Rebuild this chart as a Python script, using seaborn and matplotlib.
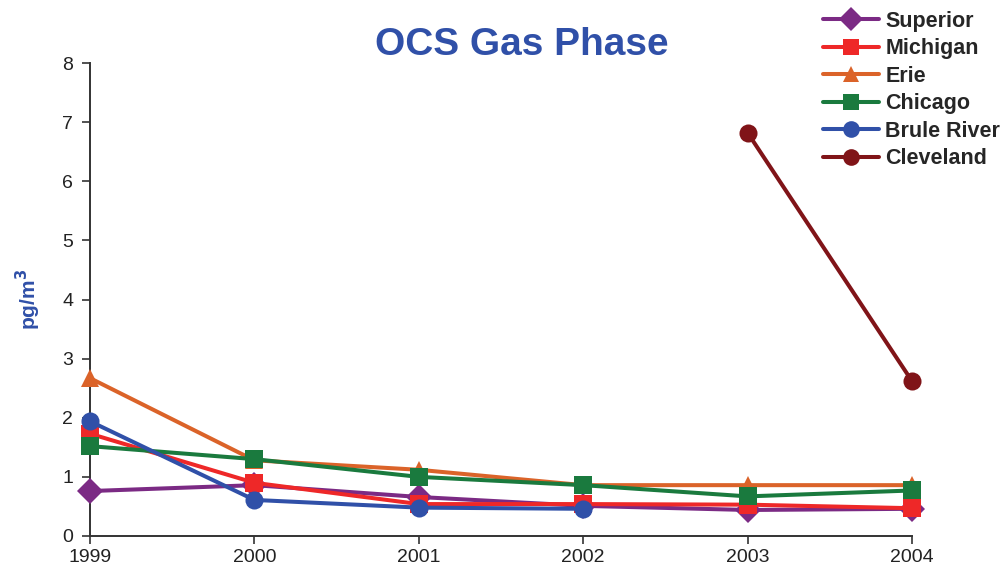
import matplotlib
matplotlib.use("Agg")
import matplotlib.pyplot as plt
import seaborn as sns
import pandas as pd
import numpy as np

years = [1999, 2000, 2001, 2002, 2003, 2004]
sites = ["Superior", "Michigan", "Erie", "Chicago", "Brule River", "Cleveland"]
superior = [0.76, 0.86, 0.66, 0.51, 0.44, 0.46]
michigan = [1.73, 0.90, 0.54, 0.54, 0.53, 0.47]
erie = [2.67, 1.28, 1.12, 0.86, 0.86, 0.86]
chicago = [1.52, 1.30, 1.00, 0.86, 0.67, 0.77]
brule_river = [1.94, 0.61, 0.48, 0.46, np.nan, np.nan]
cleveland = [np.nan, np.nan, np.nan, np.nan, 6.82, 2.62]

colors = ["#7B2A84", "#EE2828", "#DB6329", "#1A7A3E", "#3050A8", "#801418"]
marker_shapes = ["D", "s", "^", "s", "o", "o"]

series = [superior, michigan, erie, chicago, brule_river, cleveland]
rows = []
for name, vals in zip(sites, series):
    for yr, v in zip(years, vals):
        if not np.isnan(v):
            rows.append({"Year": yr, "Value": v, "Site": name})
df = pd.DataFrame(rows)

sns.set_theme(style="white")
plt.rcParams["font.family"] = ["Liberation Sans", "DejaVu Sans"]

fig = plt.figure(figsize=(10.03, 5.81), dpi=100)
ax = fig.add_axes([90 / 1003, 45 / 581, (912 - 90) / 1003, (536 - 63) / 581])

sns.lineplot(
    data=df, x="Year", y="Value", hue="Site", style="Site",
    hue_order=sites, style_order=sites,
    palette=dict(zip(sites, colors)),
    markers=dict(zip(sites, marker_shapes)),
    dashes=False, linewidth=2.9, markersize=13, markeredgewidth=0,
    ax=ax, legend=False, clip_on=False, zorder=3,
)

ax.set_xlim(1999, 2004)
ax.set_ylim(0, 8)
ax.set_xticks(years)
ax.set_xticklabels([str(y) for y in years])
ax.set_yticks(range(0, 9))
ax.tick_params(axis="both", direction="out", length=6, width=1.2, color="#333333",
               labelsize=14, labelcolor="#222222", bottom=True, left=True)
ax.tick_params(axis="x", pad=3)
ax.tick_params(axis="y", pad=6)
for s in ["top", "right"]:
    ax.spines[s].set_visible(False)
for s in ["left", "bottom"]:
    ax.spines[s].set_color("#333333")
    ax.spines[s].set_linewidth(1.4)
ax.set_xlabel("")
ax.set_ylabel("pg/m$^\\mathbf{3}$", color="#3050A8", fontsize=15, fontweight="bold", labelpad=14)

fig.text(0.52, 0.922, "OCS Gas Phase", ha="center", va="center", color="#3050A8",
         fontsize=28, fontweight="bold")

handles = [
    plt.Line2D([], [], color=c, marker=m, linewidth=2.9, markersize=12, markeredgewidth=0)
    for c, m in zip(colors, marker_shapes)
]
fig.legend(handles, sites, loc="upper left", bbox_to_anchor=(812 / 1003, 1.0),
           frameon=False, prop={"weight": "bold", "size": 15.5},
           handlelength=2.6, labelspacing=0.3, handletextpad=0.3, borderaxespad=0.1)

fig.savefig("out.png", dpi=100)
